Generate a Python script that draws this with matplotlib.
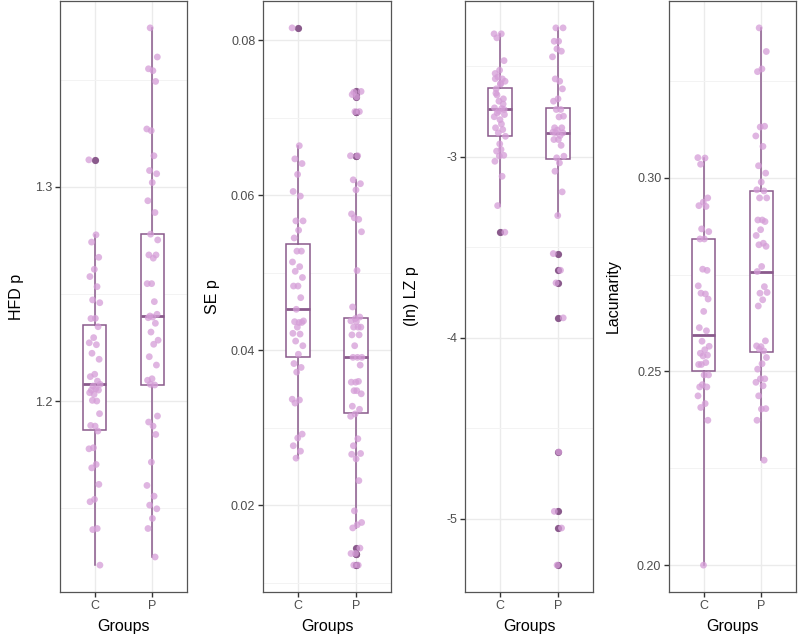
import matplotlib
matplotlib.use("Agg")
import matplotlib.pyplot as plt
import numpy as np

plt.rcParams['font.family'] = ['Liberation Sans', 'DejaVu Sans']
plt.rcParams['axes.unicode_minus'] = False

groups = ["C", "P"]

# ---- HFD p ----
hfd_C = [1.3126, 1.2776, 1.2742, 1.2671, 1.2615, 1.2581, 1.2534, 1.2472, 1.2459, 1.2386,
         1.2385, 1.2347, 1.2296, 1.2272, 1.2263, 1.2223, 1.2195, 1.2125, 1.2114, 1.2093,
         1.2070, 1.2078, 1.2057, 1.2051, 1.2051, 1.2031, 1.2039, 1.2000, 1.2003, 1.1941,
         1.1883, 1.1886, 1.1860, 1.1782, 1.1777, 1.1704, 1.1688, 1.1611, 1.1541, 1.1530,
         1.1405, 1.1400, 1.1234]
hfd_P = [1.3742, 1.3606, 1.3542, 1.3551, 1.3492, 1.3262, 1.3270, 1.3145, 1.3076, 1.3061,
         1.3020, 1.2935, 1.2880, 1.2779, 1.2752, 1.2667, 1.2682, 1.2682, 1.2548, 1.2548,
         1.2464, 1.2397, 1.2405, 1.2392, 1.2389, 1.2363, 1.2322, 1.2284, 1.2265, 1.2207,
         1.2168, 1.2104, 1.2097, 1.2075, 1.2078, 1.1930, 1.1883, 1.1902, 1.1844, 1.1715,
         1.1606, 1.1556, 1.1514, 1.1497, 1.1452, 1.1405, 1.1272]
# box stats: whisker low, Q1, median, Q3, whisker high
hfd_box_C = [1.1234, 1.1864, 1.2080, 1.2355, 1.2776]
hfd_box_P = [1.1272, 1.2075, 1.2397, 1.2780, 1.3742]

# ---- SE p ----
se_C = [0.0816, 0.0664, 0.0647, 0.0641, 0.0627, 0.0605, 0.0599, 0.0567, 0.0567, 0.0555,
        0.0545, 0.0528, 0.0528, 0.0514, 0.0508, 0.0502, 0.0494, 0.0483, 0.0483, 0.0468,
        0.0453, 0.0438, 0.0436, 0.0437, 0.0436, 0.0430, 0.0422, 0.0421, 0.0412, 0.0406,
        0.0395, 0.0383, 0.0378, 0.0372, 0.0337, 0.0336, 0.0332, 0.0292, 0.0287, 0.0277,
        0.0270, 0.0261]
se_P = [0.0733, 0.0734, 0.0727, 0.0730, 0.0708, 0.0708, 0.0651, 0.0651, 0.0620, 0.0615,
        0.0607, 0.0576, 0.0569, 0.0571, 0.0553, 0.0503, 0.0456, 0.0443, 0.0441, 0.0438,
        0.0430, 0.0430, 0.0430, 0.0437, 0.0420, 0.0420, 0.0406, 0.0391, 0.0391, 0.0391,
        0.0381, 0.0359, 0.0359, 0.0360, 0.0348, 0.0344, 0.0348, 0.0328, 0.0324, 0.0318,
        0.0315, 0.0286, 0.0277, 0.0267, 0.0260, 0.0266, 0.0232, 0.0193, 0.0178, 0.0175,
        0.0171, 0.0145, 0.0138, 0.0138, 0.0123, 0.0123]
se_box_C = [0.0261, 0.0392, 0.0454, 0.0537, 0.0664]
se_box_P = [0.0171, 0.0319, 0.0391, 0.0442, 0.0620]

# ---- (ln) LZ p ----
lz_C = [-2.322, -2.322, -2.344, -2.470, -2.523, -2.541, -2.571, -2.560, -2.584, -2.597,
        -2.626, -2.681, -2.694, -2.731, -2.735, -2.759, -2.768, -2.796, -2.841, -2.851,
        -2.869, -2.888, -2.961, -2.970, -2.993, -2.997, -3.026, -3.109, -3.271, -3.418,
        -2.600, -2.650, -2.710, -2.750, -2.780, -2.820, -2.660, -2.740, -2.930, -2.570]
lz_P = [-2.289, -2.289, -2.363, -2.363, -2.418, -2.405, -2.449, -2.584, -2.571, -2.626,
        -2.681, -2.694, -2.740, -2.740, -2.777, -2.781, -2.841, -2.841, -2.854, -2.865,
        -2.884, -2.869, -2.869, -2.906, -2.906, -2.938, -3.007, -2.998, -3.035, -3.081,
        -3.195, -3.326, -3.536, -3.628, -3.698, -3.891, -4.632, -4.960, -5.052, -5.257]
lz_box_C = [-3.271, -2.884, -2.735, -2.620, -2.322]
lz_box_P = [-3.326, -3.013, -2.869, -2.731, -2.289]

# ---- Lacunarity ----
lac_C = [0.3052, 0.3051, 0.3035, 0.2948, 0.2937, 0.2928, 0.2926, 0.2868, 0.2861, 0.2842,
         0.2842, 0.2761, 0.2764, 0.2721, 0.2700, 0.2702, 0.2687, 0.2655, 0.2613, 0.2605,
         0.2578, 0.2565, 0.2556, 0.2547, 0.2542, 0.2540, 0.2518, 0.2523, 0.2518, 0.2491,
         0.2491, 0.2460, 0.2460, 0.2466, 0.2437, 0.2417, 0.2407, 0.2374, 0.2000]
lac_P = [0.3387, 0.3326, 0.3281, 0.3274, 0.3133, 0.3131, 0.3108, 0.3081, 0.3031, 0.3012,
         0.2989, 0.2969, 0.2966, 0.2948, 0.2948, 0.2891, 0.2891, 0.2887, 0.2866, 0.2851,
         0.2831, 0.2827, 0.2823, 0.2771, 0.2758, 0.2719, 0.2702, 0.2704, 0.2685, 0.2669,
         0.2579, 0.2564, 0.2566, 0.2553, 0.2558, 0.2536, 0.2520, 0.2506, 0.2481, 0.2481,
         0.2472, 0.2463, 0.2437, 0.2404, 0.2403, 0.2374, 0.2271]
lac_box_C = [0.2000, 0.2500, 0.2595, 0.2842, 0.3052]
lac_box_P = [0.2271, 0.2550, 0.2758, 0.2967, 0.3387]

y_labels = ["HFD p", "SE p", "(ln) LZ p", "Lacunarity"]
y_ticks = [[1.2, 1.3], [0.02, 0.04, 0.06, 0.08], [-5, -4, -3], [0.20, 0.25, 0.30]]
y_ticklabels = [["1.2", "1.3"], ["0.02", "0.04", "0.06", "0.08"], ["-5", "-4", "-3"],
                ["0.20", "0.25", "0.30"]]

panels = [
    (hfd_C, hfd_P, hfd_box_C, hfd_box_P),
    (se_C, se_P, se_box_C, se_box_P),
    (lz_C, lz_P, lz_box_C, lz_box_P),
    (lac_C, lac_P, lac_box_C, lac_box_P),
]

BOX_COL = "#8a5a8c"
PT_COL = "#d59dd7"
GRID_COL = "#ebebeb"
BORDER_COL = "#555555"
TICK_TXT = "#4d4d4d"

W, H = 800, 636
fig = plt.figure(figsize=(W / 100, H / 100), dpi=100)
lefts = [60, 263, 465, 669]
widths = [127, 128, 128, 127]
top_px, bot_px = 1, 592
label_right = [24, 220, 419, 621]

for k, (dC, dP, bC, bP) in enumerate(panels):
    ax = fig.add_axes([lefts[k] / W, 1 - bot_px / H, widths[k] / W, (bot_px - top_px) / H])
    stats = []
    for name, d, b in ((groups[0], dC, bC), (groups[1], dP, bP)):
        fl = [v for v in d if v < b[0] - 1e-9 or v > b[4] + 1e-9]
        stats.append(dict(label=name, whislo=b[0], q1=b[1], med=b[2], q3=b[3],
                          whishi=b[4], fliers=fl))
    ax.bxp(stats, positions=[1, 2], widths=0.4, patch_artist=True, showcaps=False,
           boxprops=dict(facecolor="white", edgecolor=BOX_COL, linewidth=1.1),
           whiskerprops=dict(color=BOX_COL, linewidth=1.1),
           medianprops=dict(color=BOX_COL, linewidth=2.0),
           flierprops=dict(marker="o", markerfacecolor=BOX_COL, markeredgecolor="none",
                           markersize=5.2, alpha=1.0),
           zorder=2)
    for gi, d in enumerate((dC, dP)):
        n = len(d)
        offs = np.array([((i * 0.618034 + 0.31 * gi) % 1.0) - 0.5 for i in range(n)]) * 0.2
        ax.scatter(gi + 1 + offs, d, s=24, color=PT_COL, alpha=0.75, edgecolors="none",
                   zorder=3)

    allv = list(dC) + list(dP)
    lo, hi = min(allv), max(allv)
    pad = (hi - lo) * 0.05
    ax.set_ylim(lo - pad, hi + pad)
    ax.set_xlim(0.4, 2.6)
    ax.set_xticks([1, 2])
    ax.set_xticklabels(groups)
    ax.set_yticks(y_ticks[k])
    ax.set_yticklabels(y_ticklabels[k])
    yt = y_ticks[k]
    step = yt[1] - yt[0]
    minors = []
    m = yt[0] - step / 2
    while m < hi + pad:
        if m > lo - pad:
            minors.append(m)
        m += step
    ax.set_yticks(minors, minor=True)
    ax.tick_params(axis="y", which="minor", length=0)
    ax.grid(True, which="major", color=GRID_COL, linewidth=1.0, zorder=0)
    ax.grid(True, which="minor", axis="y", color="#f3f3f3", linewidth=0.7, zorder=0)
    ax.set_axisbelow(True)
    ax.tick_params(axis="both", which="major", length=3.5, width=1.0, color="#333333",
                   labelsize=9, labelcolor=TICK_TXT, pad=2)
    for sp in ax.spines.values():
        sp.set_color(BORDER_COL)
        sp.set_linewidth(0.9)
    ax.set_xlabel("Groups", fontsize=11.5, color="black", labelpad=5)
    ax.set_ylabel(y_labels[k], fontsize=11.5, color="black")
    ax.yaxis.set_label_coords((label_right[k] - lefts[k]) / widths[k], 0.5)

fig.savefig("out.png", dpi=100, facecolor="white")
